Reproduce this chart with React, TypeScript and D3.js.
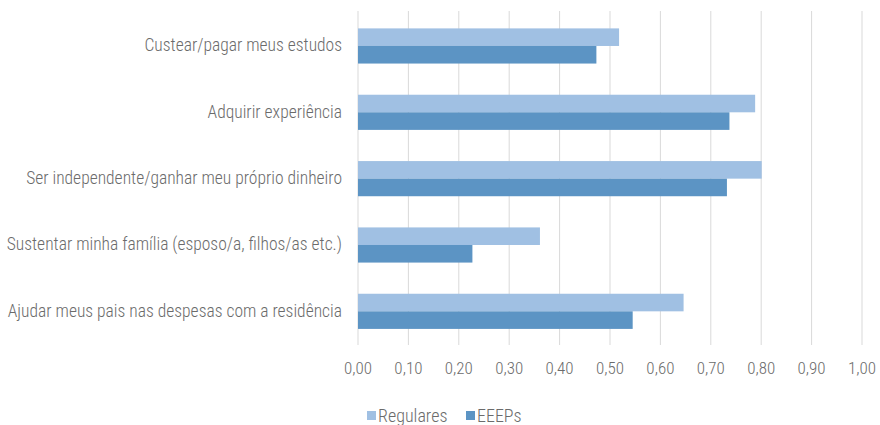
import * as d3 from "d3";

const categories = [
  "Custear/pagar meus estudos",
  "Adquirir experiência",
  "Ser independente/ganhar meu próprio dinheiro",
  "Sustentar minha família (esposo/a, filhos/as etc.)",
  "Ajudar meus pais nas despesas com a residência",
];
const seriesNames = ["Regulares", "EEEPs"];
const regulares = [0.518, 0.788, 0.801, 0.361, 0.646];
const eeeps = [0.473, 0.737, 0.732, 0.227, 0.545];
const ticks = [0, 0.1, 0.2, 0.3, 0.4, 0.5, 0.6, 0.7, 0.8, 0.9, 1.0];

const colors = ["#A0C0E3", "#5C94C4"];
const W = 880;
const H = 425;
const FONT = "'Roboto Condensed', 'Liberation Sans Narrow', 'Arial Narrow', sans-serif";

const App = () => {
  const x = d3.scaleLinear().domain([0, 1]).range([358, 862]);
  const y = d3
    .scaleBand<string>()
    .domain(categories)
    .range([12.8, 344.5])
    .paddingInner(0.47)
    .paddingOuter(0.235);
  const inner = d3
    .scaleBand<string>()
    .domain(seriesNames)
    .range([0, y.bandwidth()]);
  const series = [regulares, eeeps];
  const fmt = (v: number) => d3.format(".2f")(v).replace(".", ",");

  return (
    <svg
      width={W}
      height={H}
      viewBox={`0 0 ${W} ${H}`}
      style={{ position: "absolute", left: 0, top: 0, background: "#fff" }}
      fontFamily={FONT}
      fontWeight={300}
    >
      {ticks.map((t) => (
        <line
          key={t}
          x1={x(t)}
          x2={x(t)}
          y1={11}
          y2={345}
          stroke="#D9D9D9"
          strokeWidth={1}
        />
      ))}
      {categories.map((c, i) => (
        <g key={c}>
          {series.map((s, j) => (
            <rect
              key={j}
              x={x(0)}
              y={(y(c) ?? 0) + (inner(seriesNames[j]) ?? 0)}
              width={x(s[i]) - x(0)}
              height={inner.bandwidth()}
              fill={colors[j]}
            />
          ))}
          <text
            x={342}
            y={(y(c) ?? 0) + y.bandwidth() / 2 - 0.5}
            textAnchor="end"
            dominantBaseline="central"
            fontSize={17.5}
            fill="#6b6b6b"
          >
            {c}
          </text>
        </g>
      ))}
      {ticks.map((t) => (
        <text
          key={t}
          x={x(t)}
          y={368}
          textAnchor="middle"
          dominantBaseline="central"
          fontSize={17}
          fill="#6b6b6b"
        >
          {fmt(t)}
        </text>
      ))}
      {seriesNames.map((n, j) => {
        const lx = j === 0 ? 367 : 466;
        return (
          <g key={n}>
            <rect x={lx} y={411} width={9} height={9} fill={colors[j]} />
            <text
              x={lx + 11}
              y={415.5}
              dominantBaseline="central"
              fontSize={18}
              fill="#6b6b6b"
            >
              {n}
            </text>
          </g>
        );
      })}
    </svg>
  );
};

export default App;
